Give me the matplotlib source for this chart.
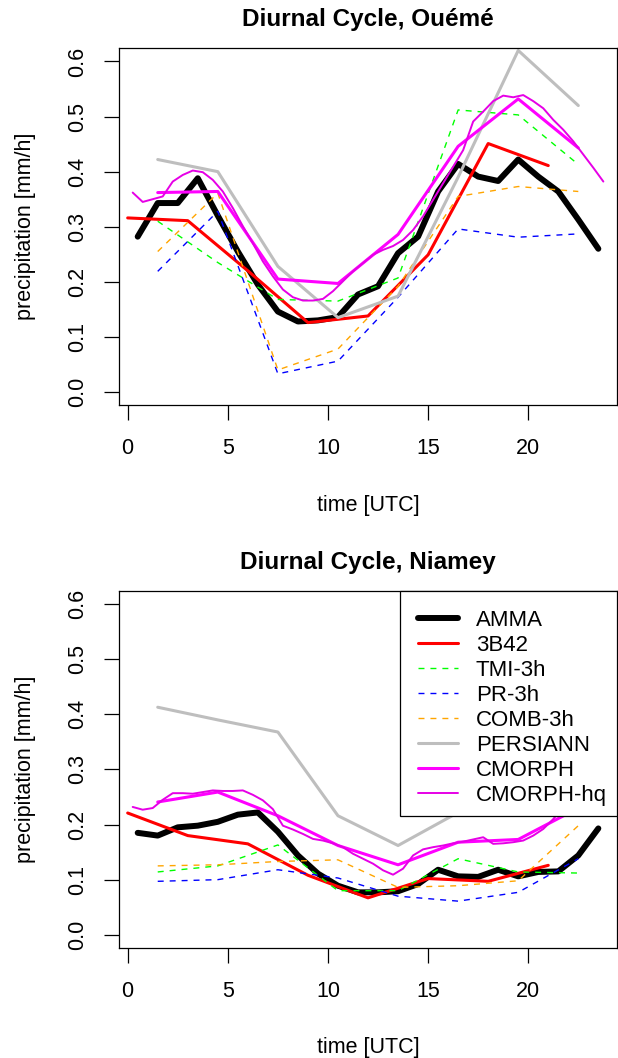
import matplotlib.pyplot as plt
import numpy as np
from matplotlib.lines import Line2D
from matplotlib.legend_handler import HandlerLine2D

plt.rcParams['font.family'] = ['Liberation Sans', 'DejaVu Sans']

# time axes of the different products [UTC]
hours_amma = np.arange(0.5, 24, 1.0)
hours_3b42 = np.arange(0, 22, 3.0)
hours_3h = np.arange(1.5, 24, 3.0)
hours_hq = np.arange(0.25, 24, 0.5)

labels = ['AMMA', '3B42', 'TMI-3h', 'PR-3h', 'COMB-3h', 'PERSIANN', 'CMORPH', 'CMORPH-hq']

# Oueme
oueme_amma = [0.282, 0.343, 0.343, 0.388, 0.32, 0.255, 0.195, 0.146, 0.128, 0.130, 0.136, 0.177,
              0.192, 0.252, 0.282, 0.364, 0.414, 0.391, 0.383, 0.422, 0.391, 0.364, 0.313, 0.260]
oueme_3b42 = [0.316, 0.311, 0.22, 0.126, 0.138, 0.249, 0.451, 0.411]
oueme_tmi = [0.310, 0.235, 0.168, 0.165, 0.207, 0.512, 0.503, 0.413]
oueme_pr = [0.219, 0.328, 0.033, 0.056, 0.172, 0.296, 0.281, 0.287]
oueme_comb = [0.255, 0.361, 0.040, 0.078, 0.192, 0.355, 0.373, 0.364]
oueme_persiann = [0.422, 0.400, 0.228, 0.135, 0.174, 0.39, 0.620, 0.520]
oueme_cmorph = [0.362, 0.364, 0.205, 0.197, 0.286, 0.446, 0.532, 0.443]
oueme_hq = [0.362, 0.345, 0.350, 0.355, 0.382, 0.394, 0.402, 0.399,
            0.385, 0.364, 0.334, 0.301, 0.270, 0.237, 0.210, 0.186,
            0.172, 0.166, 0.166, 0.169, 0.183, 0.201, 0.219, 0.234,
            0.249, 0.258, 0.265, 0.276, 0.294, 0.319, 0.349, 0.379,
            0.409, 0.439, 0.491, 0.509, 0.528, 0.538, 0.535, 0.539,
            0.528, 0.515, 0.494, 0.476, 0.455, 0.431, 0.407, 0.382]

# Niamey
niamey_amma = [0.185, 0.180, 0.195, 0.198, 0.205, 0.218, 0.222, 0.187, 0.144, 0.111, 0.089, 0.077,
               0.077, 0.079, 0.092, 0.118, 0.106, 0.105, 0.118, 0.106, 0.114, 0.115, 0.144, 0.193]
niamey_3b42 = [0.221, 0.180, 0.165, 0.108, 0.067, 0.102, 0.097, 0.126]
niamey_tmi = [0.114, 0.125, 0.163, 0.080, 0.080, 0.138, 0.114, 0.112]
niamey_pr = [0.097, 0.100, 0.118, 0.103, 0.070, 0.061, 0.077, 0.138]
niamey_comb = [0.125, 0.127, 0.133, 0.136, 0.086, 0.089, 0.098, 0.198]
niamey_persiann = [0.413, 0.390, 0.368, 0.216, 0.162, 0.222, 0.331, 0.375]
niamey_cmorph = [0.241, 0.259, 0.216, 0.162, 0.127, 0.168, 0.173, 0.230]
niamey_hq = [0.232, 0.227, 0.230, 0.245, 0.257, 0.257, 0.256, 0.259,
             0.262, 0.261, 0.261, 0.262, 0.254, 0.244, 0.228, 0.198,
             0.191, 0.183, 0.174, 0.171, 0.166, 0.159, 0.147, 0.138,
             0.129, 0.117, 0.109, 0.120, 0.144, 0.155, 0.159, 0.162,
             0.166, 0.169, 0.173, 0.177, 0.165, 0.166, 0.168, 0.171,
             0.180, 0.192, 0.210, 0.232, 0.234, 0.233, 0.233, 0.236]

dash = (0, (4.3, 4.3))
styles = [
    dict(color='black', lw=4.3, ls='-'),
    dict(color='#FF0000', lw=2.2, ls='-'),
    dict(color='#00FF00', lw=1.0, ls=dash),
    dict(color='#0000FF', lw=1.0, ls=dash),
    dict(color='#FFA500', lw=1.0, ls=dash),
    dict(color='#BEBEBE', lw=2.2, ls='-'),
    dict(color='#FF00FF', lw=2.2, ls='-'),
    dict(color='#E600E6', lw=1.4, ls='-'),
]


def panel(ax, title, series, legend=False):
    xs = [hours_amma, hours_3b42, hours_3h, hours_3h, hours_3h, hours_3h, hours_3h, hours_hq]
    for x, y, lab, st in zip(xs, series, labels, styles):
        ax.plot(x, y, label=lab, solid_capstyle='round', solid_joinstyle='round', **st)
    ax.set_xlim(-0.42, 24.42)
    ax.set_ylim(-0.024, 0.624)
    ax.set_xticks([0, 5, 10, 15, 20])
    ax.set_yticks([0.0, 0.1, 0.2, 0.3, 0.4, 0.5, 0.6])
    ax.set_yticklabels(['0.0', '0.1', '0.2', '0.3', '0.4', '0.5', '0.6'], rotation=90, va='center')
    ax.tick_params(axis='both', labelsize=15.5, length=10.5, width=0.9, direction='out')
    ax.tick_params(axis='x', pad=13)
    ax.tick_params(axis='y', pad=12)
    for s in ax.spines.values():
        s.set_linewidth(0.9)
    ax.set_title(title, fontsize=17.5, fontweight='bold', pad=16)
    ax.set_xlabel('time [UTC]', fontsize=15.5, va='center')
    ax.xaxis.set_label_coords(0.5, -0.28)
    ax.set_ylabel('precipitation [mm/h]', fontsize=15.5, va='center')
    ax.yaxis.set_label_coords(-0.188, 0.5)
    if legend:
        # R style legend: wider gap on the left of the symbols than right of the text
        leg = ax.legend(loc='upper right', bbox_to_anchor=(1, 1), borderaxespad=0,
                        fontsize=16, fancybox=False, edgecolor='black', framealpha=1,
                        handlelength=2.16, handletextpad=0.8, labelspacing=0.18,
                        borderpad=0.45, title=' ', title_fontsize=3.5,
                        handler_map={Line2D: HandlerLine2D(xpad=0.36)})
        leg.get_frame().set_linewidth(0.9)


fig = plt.figure(figsize=(6.18, 10.58), dpi=100)
ax1 = fig.add_axes([0.193, 0.617, 0.805, 0.3374])
ax2 = fig.add_axes([0.193, 0.104, 0.805, 0.3374])

panel(ax1, 'Diurnal Cycle, Ouémé',
      [oueme_amma, oueme_3b42, oueme_tmi, oueme_pr, oueme_comb, oueme_persiann, oueme_cmorph, oueme_hq])
panel(ax2, 'Diurnal Cycle, Niamey',
      [niamey_amma, niamey_3b42, niamey_tmi, niamey_pr, niamey_comb, niamey_persiann, niamey_cmorph, niamey_hq],
      legend=True)

fig.savefig('out.png', dpi=100)
